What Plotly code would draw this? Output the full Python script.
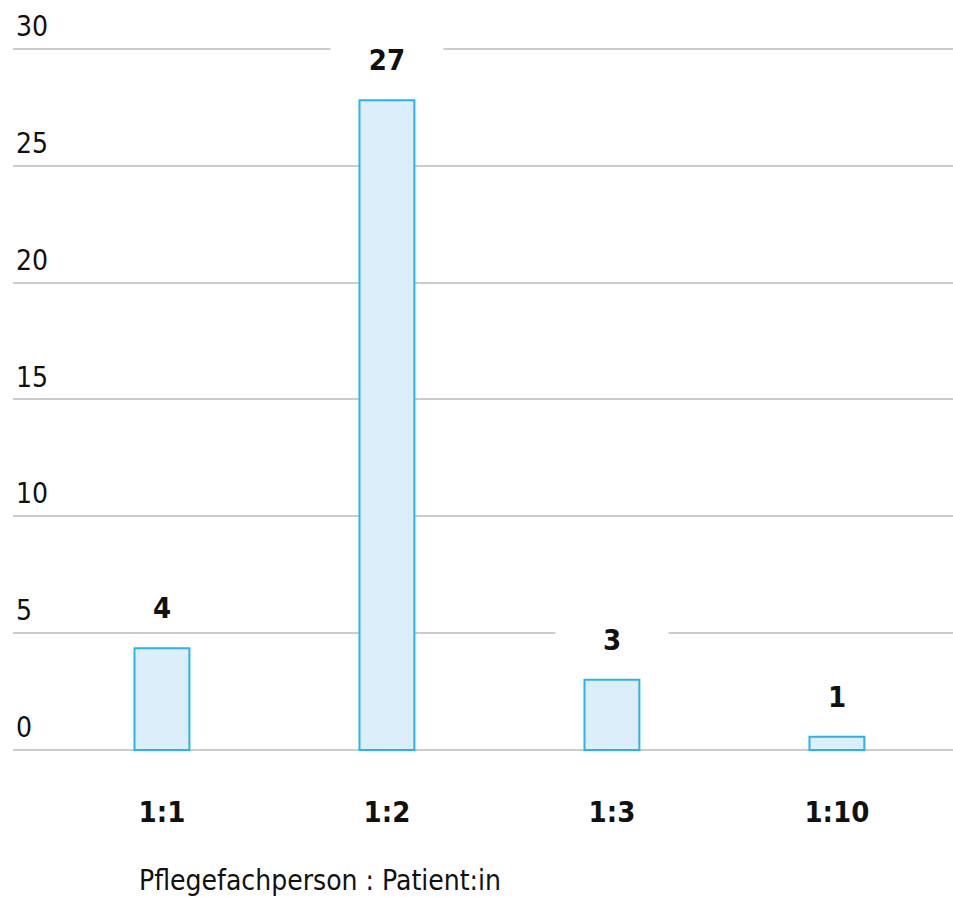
import plotly.graph_objects as go

categories = ["1:1", "1:2", "1:3", "1:10"]
bar_values = [4.35, 27.8, 3.0, 0.57]
value_labels = ["4", "27", "3", "1"]
y_ticks = [0, 5, 10, 15, 20, 25, 30]
x_title = "Pflegefachperson : Patient:in"

FONT = "DejaVu Sans Condensed, Liberation Sans Narrow, sans-serif"
positions = list(range(len(categories)))

fig = go.Figure()
fig.add_trace(go.Bar(
    x=positions, y=bar_values, width=0.244,
    marker=dict(color="#ddeefb", line=dict(color="#26b3ef", width=2)),
    hoverinfo="skip",
))

for p, v, t in zip(positions, bar_values, value_labels):
    fig.add_annotation(
        x=p, y=v, xref="x", yref="y", text="<b>%s</b>" % t, showarrow=False,
        yanchor="middle", yshift=40, bgcolor="white", width=110, height=40,
        font=dict(family=FONT, size=29, color="#111"),
    )

fig.add_annotation(
    x=(137 - 13) / 940, y=-(880 - 757) / 755, xref="paper", yref="paper",
    text=x_title, showarrow=False, xanchor="left", yanchor="middle",
    font=dict(family=FONT, size=28, color="#111"),
)

fig.update_layout(
    width=953, height=897,
    margin=dict(l=13, r=0, t=2, b=140),
    paper_bgcolor="white", plot_bgcolor="white",
    showlegend=False,
    font=dict(family=FONT, color="#111"),
    xaxis=dict(
        range=[-0.662, 3.516], tickvals=positions,
        ticktext=["<b>%s</b>" % c for c in categories],
        tickfont=dict(family=FONT, size=29, color="#111"),
        showgrid=False, zeroline=False, showline=False, ticks="",
        ticklabelstandoff=35,
    ),
    yaxis=dict(
        range=[-0.3, 32.0], tickvals=y_ticks,
        ticklabelposition="inside top", ticklabelshift=-3,
        tickfont=dict(family=FONT, size=28, color="#111"),
        showgrid=True, gridcolor="#cccccc", gridwidth=2,
        zeroline=False, showline=False, ticks="",
    ),
)

fig.write_html(
    "out.html",
    config={"displayModeBar": False},
    post_script="document.body.style.margin='0';document.body.style.overflow='hidden';",
)
